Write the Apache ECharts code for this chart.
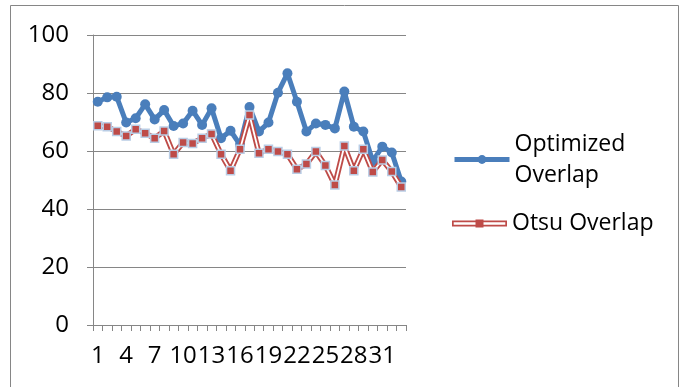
<!DOCTYPE html>
<html>
<head>
<meta charset="utf-8">
<script src="https://cdn.jsdelivr.net/npm/echarts@6/dist/echarts.min.js"></script>
<style>
  html, body { margin: 0; padding: 0; background: #fff; }
  #chart { width: 688px; height: 387px; }
</style>
</head>
<body>
<div id="chart"></div>
<script>
// Case numbers along the x axis
const cases = Array.from({ length: 33 }, (_, i) => String(i + 1));

// Overlap scores per case
const optimizedOverlap = [77.0, 78.5, 78.7, 69.8, 71.3, 76.1, 70.9, 74.1, 68.6, 69.5,
  73.9, 69.0, 74.7, 64.4, 67.0, 62.1, 75.2, 66.7, 69.8, 80.1,
  86.8, 77.0, 66.7, 69.5, 69.0, 67.8, 80.5, 68.4, 66.7, 56.5,
  61.5, 59.5, 49.5];
const otsuOverlap = [68.7, 68.4, 66.7, 65.2, 67.5, 66.1, 64.4, 66.9, 58.9, 62.9,
  62.6, 64.4, 65.9, 58.9, 53.2, 60.6, 72.4, 59.2, 60.6, 59.8,
  58.9, 53.7, 55.5, 59.8, 55.0, 48.3, 61.7, 53.2, 60.6, 52.8,
  56.9, 52.9, 47.6];

// Value axis ticks
const yMin = 0, yMax = 100, yStep = 20;

const BLUE = '#4A7EBB';
const RED = '#BE4B48';
const MARK_EDGE = '#B9CDE5';
const AXIS = '#868686';
const FONT = '"Open Sans", "Noto Sans", sans-serif';

// double-line legend icon: hollow bar with a square marker in the middle
const doubleLineIcon = 'path://M0 1.5H55V7.5H0Z M1.7 3.3V5.7H53.3V3.3Z M23.5 0.5H31.5V8.5H23.5Z';

const chart = echarts.init(document.getElementById('chart'), null, { renderer: 'canvas' });

chart.setOption({
  animation: false,
  backgroundColor: '#fff',
  grid: { left: 93, right: 282, top: 35, bottom: 62, containLabel: false },
  graphic: [{
    type: 'rect',
    shape: { x: 10.5, y: 5.5, width: 668, height: 420 },
    style: { fill: 'none', stroke: AXIS, lineWidth: 1 },
    silent: true, z: -1
  }],
  legend: [
    {
      data: [{ name: 'Optimized Overlap', lineStyle: { width: 5 } }],
      orient: 'vertical',
      left: 452, top: 113, padding: 0,
      itemWidth: 55, itemHeight: 11,
      formatter: () => 'Optimized\nOverlap',
      textStyle: { fontFamily: FONT, fontSize: 23, color: '#000', lineHeight: 31, padding: [31, 0, 0, 0] },
      selectedMode: false
    },
    {
      data: [{ name: 'Otsu Overlap', icon: doubleLineIcon, itemStyle: { borderWidth: 0, color: RED } }],
      orient: 'vertical',
      left: 452, top: 208, padding: 0,
      itemWidth: 55, itemHeight: 8,
      textStyle: { fontFamily: FONT, fontSize: 23, color: '#000', lineHeight: 31 },
      selectedMode: false
    }
  ],
  xAxis: {
    type: 'category',
    data: cases,
    boundaryGap: true,
    axisLine: { lineStyle: { color: AXIS, width: 1 } },
    axisTick: { show: true, interval: 0, length: 6, lineStyle: { color: AXIS } },
    axisLabel: {
      interval: 2, margin: 19, hideOverlap: false,
      fontFamily: FONT, fontSize: 24, color: '#000'
    },
    splitLine: { show: false }
  },
  yAxis: {
    type: 'value',
    min: yMin, max: yMax, interval: yStep,
    axisLine: { show: true, lineStyle: { color: AXIS, width: 1 } },
    axisTick: { show: true, length: 6, lineStyle: { color: AXIS } },
    axisLabel: { margin: 24, fontFamily: FONT, fontSize: 24, color: '#000' },
    splitLine: { show: true, lineStyle: { color: AXIS, width: 1 } }
  },
  series: [
    {
      name: 'Optimized Overlap',
      type: 'line',
      data: optimizedOverlap,
      z: 2,
      symbol: 'circle',
      symbolSize: 10,
      showAllSymbol: true,
      lineStyle: { color: BLUE, width: 5 },
      itemStyle: { color: BLUE },
      emphasis: { disabled: true }
    },
    {
      name: 'Otsu Overlap',
      type: 'line',
      data: otsuOverlap,
      z: 3,
      symbol: 'none',
      lineStyle: { color: RED, width: 5.5 },
      itemStyle: { color: RED },
      emphasis: { disabled: true }
    },
    {
      // white core of the double stroke
      name: 'otsu-core',
      type: 'line',
      data: otsuOverlap,
      z: 4,
      symbol: 'none',
      lineStyle: { color: '#fff', width: 1.8 },
      emphasis: { disabled: true }
    },
    {
      // square markers drawn above the double stroke
      name: 'otsu-marks',
      type: 'line',
      data: otsuOverlap,
      z: 5,
      symbol: 'rect',
      symbolSize: 8,
      showAllSymbol: true,
      lineStyle: { opacity: 0, width: 0 },
      itemStyle: { color: RED, borderColor: MARK_EDGE, borderWidth: 1.5 },
      emphasis: { disabled: true }
    }
  ]
});
</script>
</body>
</html>
